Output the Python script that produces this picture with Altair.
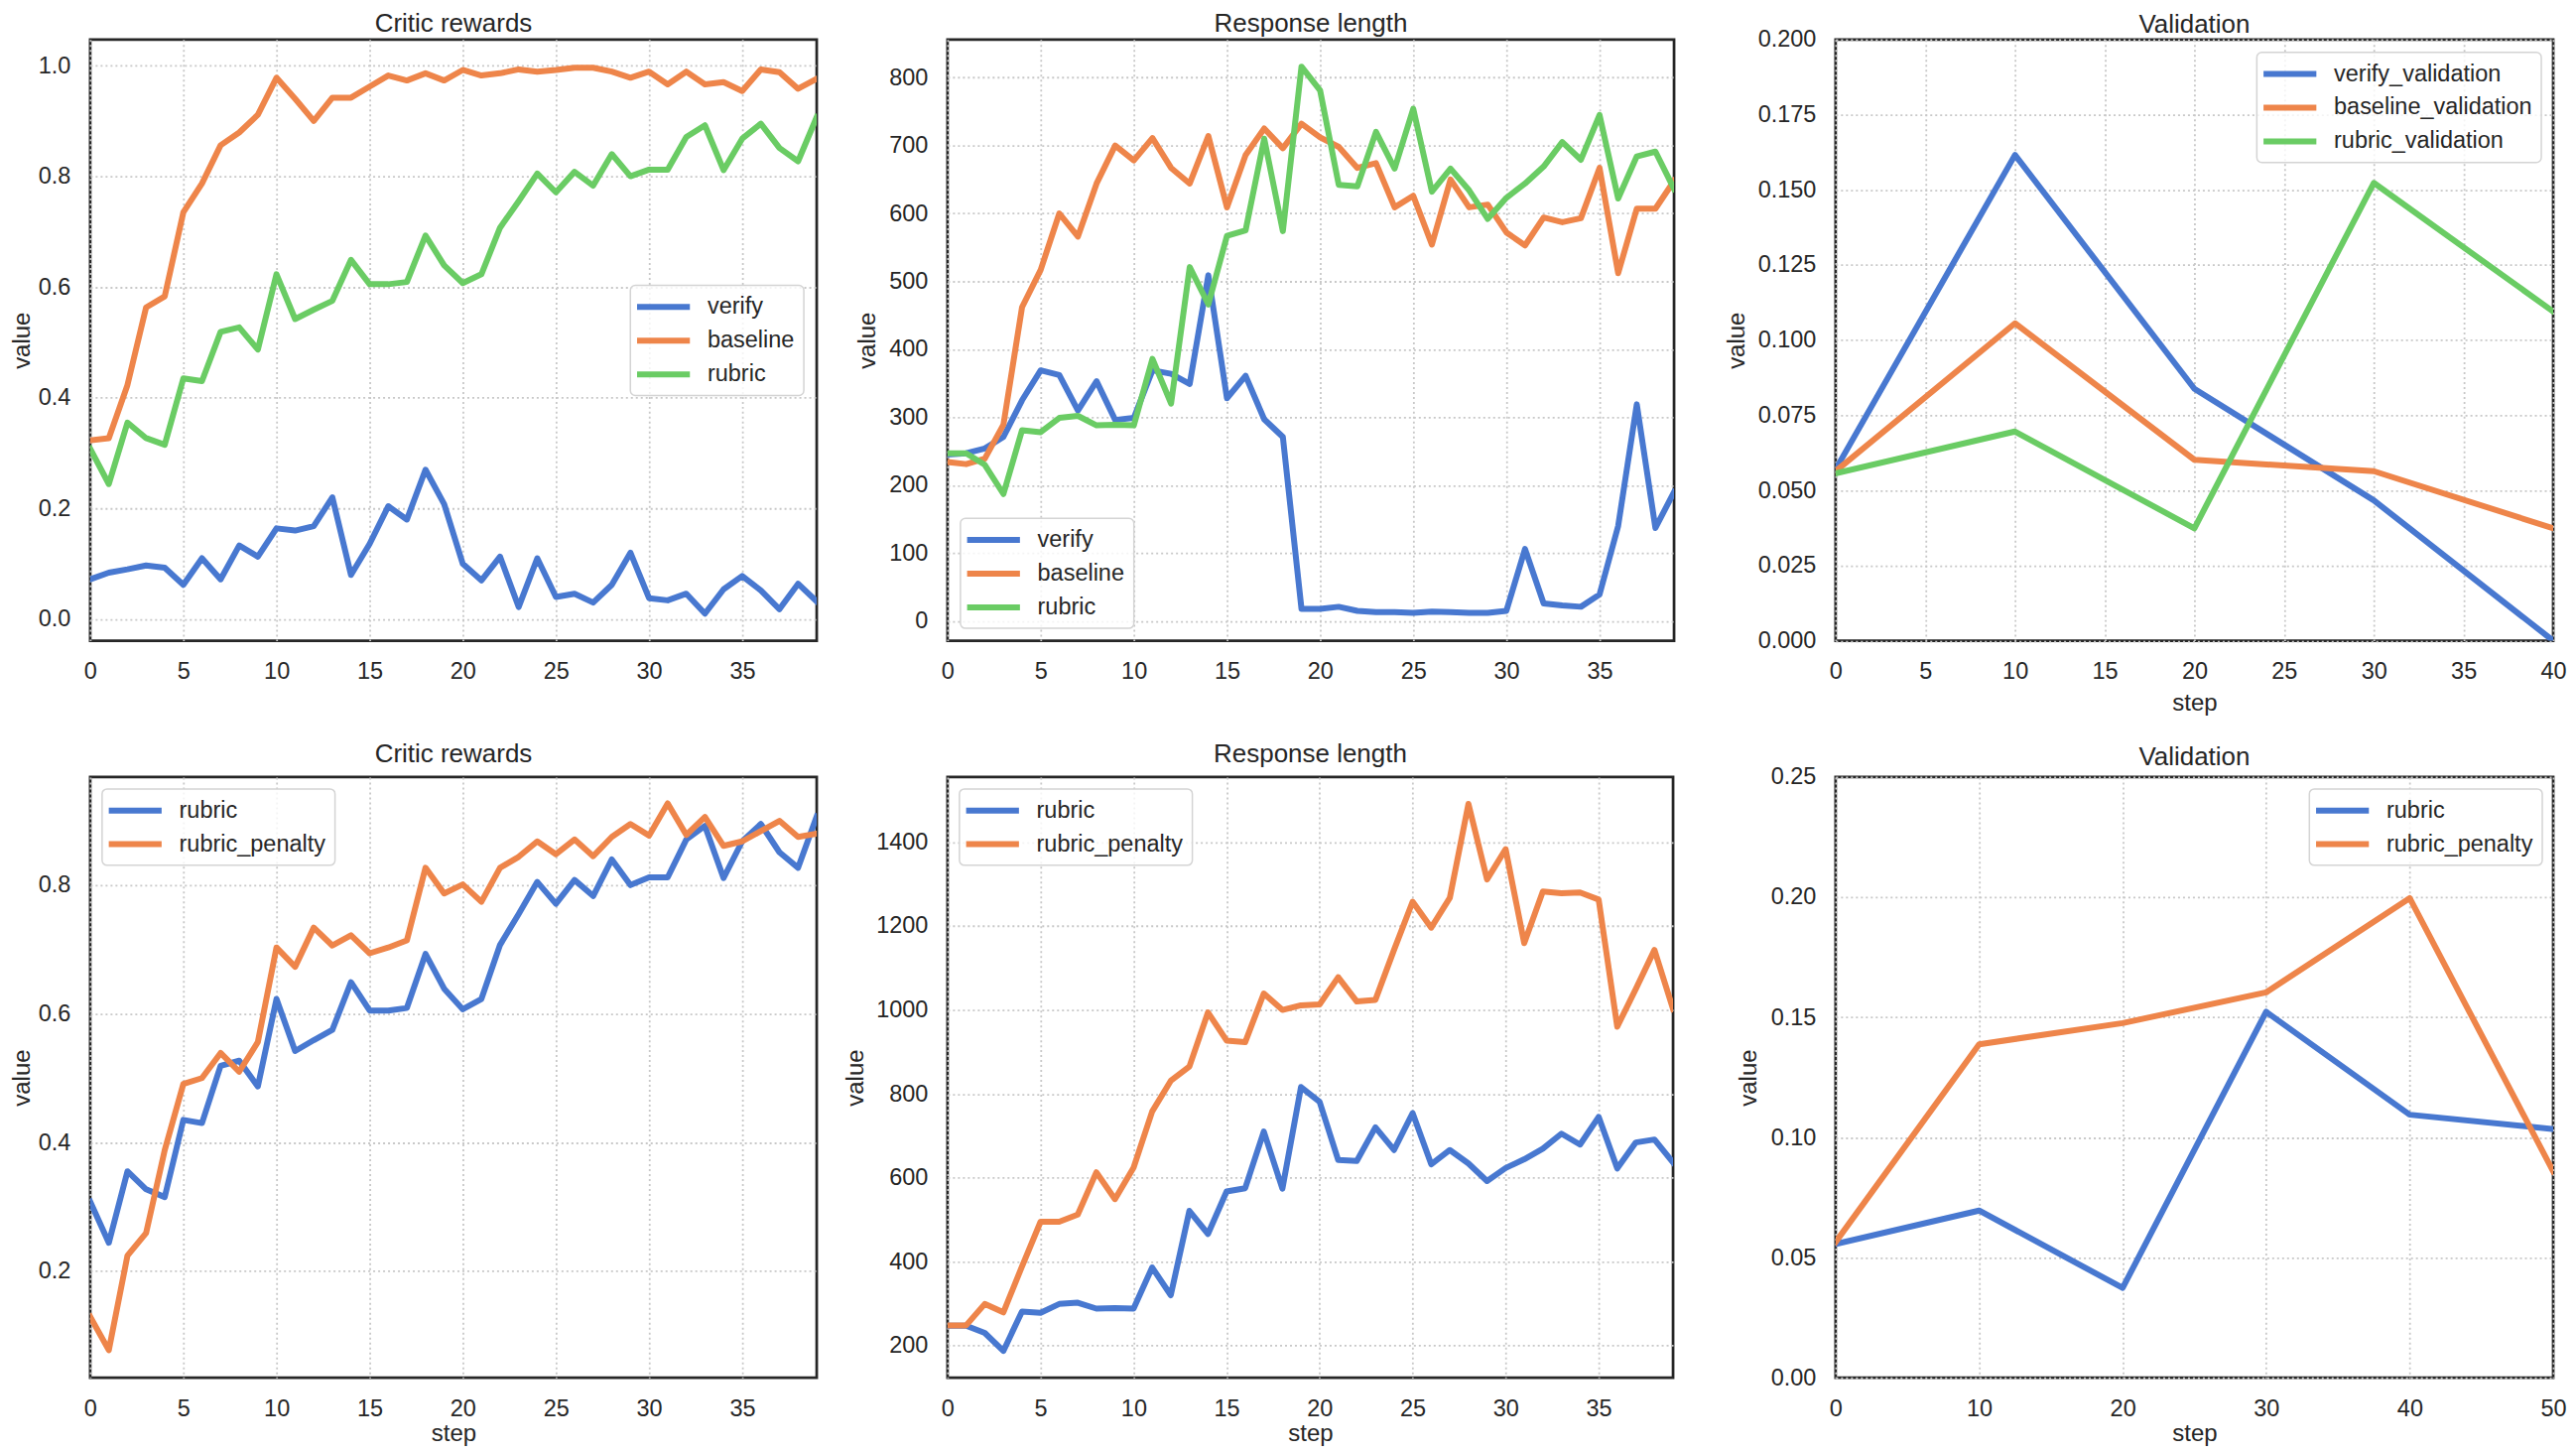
import altair as alt
import pandas as pd

FONT = "Liberation Sans"
TEXT = "#262626"
BLUE, ORANGE, GREEN = "#4878d0", "#ee854a", "#6acc64"

# ---------------- data ----------------
steps = list(range(40))

critic_verify = [0.072, 0.084, 0.090, 0.097, 0.093, 0.062, 0.110, 0.072, 0.133, 0.113,
                 0.164, 0.160, 0.168, 0.220, 0.080, 0.136, 0.204, 0.180, 0.270, 0.208,
                 0.100, 0.070, 0.113, 0.022, 0.110, 0.040, 0.046, 0.030, 0.062, 0.120,
                 0.038, 0.034, 0.046, 0.010, 0.054, 0.078, 0.052, 0.018, 0.064, 0.032]
critic_baseline = [0.323, 0.327, 0.423, 0.563, 0.583, 0.735, 0.787, 0.856, 0.879, 0.911,
                   0.978, 0.940, 0.900, 0.942, 0.942, 0.962, 0.982, 0.973, 0.986, 0.973,
                   0.992, 0.982, 0.986, 0.993, 0.989, 0.992, 0.996, 0.996, 0.989, 0.978,
                   0.989, 0.966, 0.989, 0.966, 0.970, 0.954, 0.993, 0.988, 0.958, 0.976]
critic_rubric = [0.308, 0.244, 0.355, 0.327, 0.315, 0.435, 0.430, 0.519, 0.527, 0.487,
                 0.623, 0.542, 0.559, 0.575, 0.649, 0.605, 0.605, 0.609, 0.693, 0.639,
                 0.607, 0.623, 0.707, 0.755, 0.805, 0.771, 0.808, 0.783, 0.840, 0.800,
                 0.812, 0.812, 0.871, 0.892, 0.811, 0.868, 0.895, 0.851, 0.827, 0.907]
critic_rubric_penalty = [0.129, 0.077, 0.224, 0.259, 0.388, 0.491, 0.500, 0.539, 0.510, 0.556,
                         0.703, 0.673, 0.734, 0.706, 0.722, 0.694, 0.703, 0.714, 0.827, 0.787,
                         0.801, 0.774, 0.827, 0.844, 0.868, 0.848, 0.871, 0.845, 0.875, 0.895,
                         0.877, 0.927, 0.878, 0.906, 0.861, 0.868, 0.884, 0.900, 0.875, 0.880]

length_verify = [245, 247, 254, 271, 325, 369, 362, 310, 353, 296,
                 299, 369, 364, 349, 509, 328, 361, 297, 271, 18,
                 18, 21, 15, 13, 13, 12, 14, 13, 12, 12,
                 15, 106, 26, 23, 21, 39, 140, 319, 137, 190]
length_baseline = [234, 231, 239, 289, 462, 517, 600, 566, 644, 700,
                   678, 711, 667, 644, 714, 609, 686, 725, 696, 732,
                   712, 698, 667, 674, 609, 626, 554, 650, 609, 613,
                   572, 553, 594, 587, 593, 667, 512, 607, 607, 648]
length_rubric = [247, 247, 230, 187, 281, 278, 299, 302, 288, 289,
                 288, 386, 320, 521, 466, 567, 575, 710, 574, 816,
                 781, 642, 640, 720, 666, 754, 632, 666, 634, 592,
                 623, 644, 669, 705, 679, 745, 622, 684, 691, 636]
length_rubric_penalty = [248, 248, 299, 279, 388, 495, 495, 512, 613, 549,
                         624, 758, 831, 865, 994, 927, 923, 1039, 1000, 1011,
                         1013, 1078, 1020, 1024, 1143, 1258, 1196, 1267, 1491, 1311,
                         1383, 1159, 1282, 1278, 1280, 1263, 960, 1050, 1143, 1002]

val_steps = [0, 10, 20, 30, 40, 50]
val_verify = [0.0570, 0.1616, 0.0838, 0.0467, 0.0000]
val_baseline = [0.0564, 0.1056, 0.0602, 0.0564, 0.0374]
val_rubric = [0.0557, 0.0696, 0.0374, 0.1523, 0.1095, 0.1035]
val_rubric_penalty = [0.0565, 0.1388, 0.1476, 0.1604, 0.1996, 0.0859]


def long_df(x, series):
    rows = []
    for name, vals in series:
        for s, v in zip(x, vals):
            rows.append({"step": s, "value": v, "series": name})
    return pd.DataFrame(rows)


LEG_PATH = "M-1.5,0H3.83"


def panel(df, names, colors, title, title_offset, xdom, xvals, xtitle, xext,
          ydom, yvals, yfmt, yext, width, height, legend_pos):
    leg = dict(title=None, symbolType=LEG_PATH, symbolSize=400, symbolStrokeWidth=6,
               symbolOffset=0, labelOffset=43, rowPadding=9, padding=8.75,
               fillColor="rgba(255,255,255,0.8)", strokeColor="#d4d4d4",
               cornerRadius=5, labelFont=FONT, labelFontSize=23.5, labelColor=TEXT,
               labelLimit=600)
    leg.update(legend_pos)
    x_axis = dict(values=xvals, title=xtitle, labelPadding=19, minExtent=xext,
                  maxExtent=xext, titlePadding=0, labelFlush=False)
    y_axis = dict(values=yvals, format=yfmt, title="value", labelPadding=20,
                  minExtent=yext, maxExtent=yext, titlePadding=0)
    return (
        alt.Chart(df)
        .mark_line(strokeWidth=6, clip=True, strokeJoin="round", strokeCap="square")
        .encode(
            x=alt.X("step:Q", scale=alt.Scale(domain=xdom, nice=False, zero=False),
                    axis=alt.Axis(**x_axis)),
            y=alt.Y("value:Q", scale=alt.Scale(domain=ydom, nice=False, zero=False),
                    axis=alt.Axis(**y_axis)),
            color=alt.Color("series:N", scale=alt.Scale(domain=names, range=colors),
                            legend=alt.Legend(**leg)),
        )
        .properties(
            width=width, height=height,
            title=alt.TitleParams(text=title, font=FONT, fontSize=26, fontWeight="normal",
                                  color=TEXT, offset=title_offset, baseline="alphabetic",
                                  frame="group", anchor="middle"),
        )
    )


spacer_df = pd.DataFrame({"s": [0]})


def spacer(w):
    return (
        alt.Chart(spacer_df)
        .mark_point(opacity=0)
        .encode(x=alt.X("s:Q", axis=None), y=alt.Y("s:Q", axis=None))
        .properties(width=w, height=20, view=alt.ViewBackground(stroke="transparent"))
    )


H1, H2 = 606.5, 606

p1 = panel(long_df(steps, [("verify", critic_verify), ("baseline", critic_baseline),
                           ("rubric", critic_rubric)]),
           ["verify", "baseline", "rubric"], [BLUE, ORANGE, GREEN],
           "Critic rewards", -18, [0, 39], list(range(0, 40, 5)), None, 44,
           [-0.039, 1.047], [0.0, 0.2, 0.4, 0.6, 0.8, 1.0], ".1f", 56.7, 733, H1,
           dict(orient="none", legendX=545, legendY=248))

p2 = panel(long_df(steps, [("verify", length_verify), ("baseline", length_baseline),
                           ("rubric", length_rubric)]),
           ["verify", "baseline", "rubric"], [BLUE, ORANGE, GREEN],
           "Response length", -18, [0, 39], list(range(0, 40, 5)), None, 44,
           [-29, 856], list(range(0, 801, 100)), "d", 68.7, 733, H1,
           dict(orient="bottom-left", offset=12.5))

p3 = panel(long_df(val_steps[:5], [("verify_validation", val_verify),
                                   ("baseline_validation", val_baseline),
                                   ("rubric_validation", val_rubric[:5])]),
           ["verify_validation", "baseline_validation", "rubric_validation"],
           [BLUE, ORANGE, GREEN],
           "Validation", -31.6, [0, 40], list(range(0, 41, 5)), "step", 51,
           [0, 0.2], [0, 0.025, 0.05, 0.075, 0.1, 0.125, 0.15, 0.175, 0.2], ".3f", 87.2,
           724, H1, dict(orient="top-right", offset=12.5))

p4 = panel(long_df(steps, [("rubric", critic_rubric), ("rubric_penalty", critic_rubric_penalty)]),
           ["rubric", "rubric_penalty"], [BLUE, ORANGE],
           "Critic rewards", -10.7, [0, 39], list(range(0, 40, 5)), "step", 44,
           [0.034, 0.968], [0.2, 0.4, 0.6, 0.8], ".1f", 56.7, 733, H2,
           dict(orient="top-left", offset=12))

p5 = panel(long_df(steps, [("rubric", length_rubric), ("rubric_penalty", length_rubric_penalty)]),
           ["rubric", "rubric_penalty"], [BLUE, ORANGE],
           "Response length", -10.7, [0, 39], list(range(0, 40, 5)), "step", 44,
           [123, 1555], list(range(200, 1401, 200)), "d", 80.6, 732, H2,
           dict(orient="top-left", offset=12))

p6 = panel(long_df(val_steps, [("rubric", val_rubric), ("rubric_penalty", val_rubric_penalty)]),
           ["rubric", "rubric_penalty"], [BLUE, ORANGE],
           "Validation", -26.3, [0, 50], list(range(0, 51, 10)), "step", 44,
           [0, 0.25], [0, 0.05, 0.1, 0.15, 0.2, 0.25], ".2f", 75, 724, H2,
           dict(orient="top-right", offset=11.5))

chart = (
    alt.concat(p1, spacer(132), p2, spacer(163), p3,
               p4, spacer(132), p5, spacer(163), p6,
               columns=5, spacing={"row": 137, "column": 0},
               bounds="flush", align="each", padding=0)
    .resolve_scale(color="independent", x="independent", y="independent")
    .configure_view(stroke=TEXT, strokeWidth=2.75)
    .configure_legend(strokeWidth=1.5)
    .configure_axis(labelFont=FONT, labelFontSize=23.5, labelColor=TEXT,
                    titleFont=FONT, titleFontSize=24, titleFontWeight="normal",
                    titleColor=TEXT, domain=False, ticks=False, tickSize=0,
                    grid=True, gridColor="#c8c8c8", gridDash=[2, 3], gridWidth=1.8)
)

chart.save("out.html", embed_options={"renderer": "svg", "actions": False})
